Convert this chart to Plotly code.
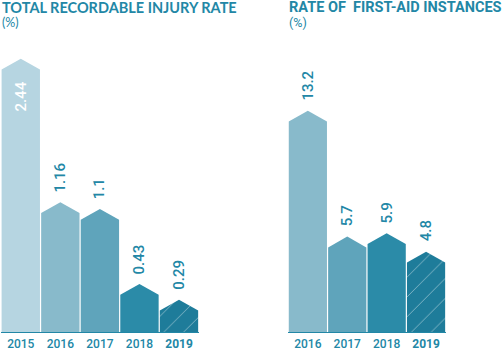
import plotly.graph_objects as go

# ---- data ----
tri_years = ["2015", "2016", "2017", "2018", "2019"]
tri_values = [2.44, 1.16, 1.1, 0.43, 0.29]
fa_years = ["2016", "2017", "2018", "2019"]
fa_values = [13.2, 5.7, 5.9, 4.8]

# ---- styles ----
TEAL = "#2287a6"
tri_colors = ["#b6d5e1", "#88bacb", "#5fa4bb", "#2b8ba8", "#1e7c9a"]
fa_colors = ["#88bacb", "#5fa4bb", "#2b8ba8", "#1e7c9a"]
H = 351
PLOT_H = 339  # px height of plot area
HALF_W = 0.485
ROOF_PX = 11

fig = go.Figure()


def add_bars(years, values, colors, xa, ya, yrange_top):
    roof = ROOF_PX / PLOT_H * yrange_top
    n = len(values)
    for i, (v, c) in enumerate(zip(values, colors)):
        xs = [i - HALF_W, i - HALF_W, i, i + HALF_W, i + HALF_W, i - HALF_W]
        ys = [0, v - roof, v, v - roof, 0, 0]
        kw = {}
        if i == n - 1:
            kw["fillpattern"] = dict(shape="/", fgcolor="rgba(255,255,255,0.85)",
                                     bgcolor=c, size=14, solidity=0.07)
        fig.add_trace(go.Scatter(x=xs, y=ys, fill="toself", fillcolor=c,
                                 mode="lines", line=dict(width=0),
                                 hoverinfo="skip", showlegend=False,
                                 xaxis=xa, yaxis=ya, **kw))
        inside = (i == 0 and years[0] == "2015")
        fig.add_annotation(x=i, y=v, xref=xa, yref=ya, text=str(v),
                           textangle=-90, showarrow=False,
                           yanchor="top" if inside else "bottom",
                           yshift=-21 if inside else 8,
                           font=dict(family="Roboto", size=15, weight=500,
                                     color="white" if inside else TEAL))


TRI_TOP = 2.44 * PLOT_H / 279
FA_TOP = 13.2 * PLOT_H / 226

add_bars(tri_years, tri_values, tri_colors, "x", "y", TRI_TOP)
add_bars(fa_years, fa_values, fa_colors, "x2", "y2", FA_TOP)

ydom = [(H - PLOT_H) / H, 1]


def xaxis_cfg(years, domain):
    return dict(domain=domain, range=[-0.5, len(years) - 0.5],
                tickvals=list(range(len(years))),
                ticktext=[("<b>%s</b>" % y) if y == years[-1] else y for y in years],
                showgrid=False, zeroline=False, showline=True,
                linecolor=TEAL, linewidth=1, ticks="",
                tickfont=dict(family="Roboto", size=12, weight=500, color=TEAL),
                fixedrange=True)


fig.update_layout(
    width=502, height=351,
    margin=dict(l=0, r=0, t=0, b=0),
    paper_bgcolor="white", plot_bgcolor="white",
    xaxis=xaxis_cfg(tri_years, [0.002, 0.396]),
    xaxis2=xaxis_cfg(fa_years, [0.574, 0.888]),
    yaxis=dict(domain=ydom, range=[0, TRI_TOP], visible=False),
    yaxis2=dict(domain=ydom, range=[0, FA_TOP], visible=False),
)

fig.add_annotation(x=0, y=1, xref="paper", yref="paper", xanchor="left", yanchor="top",
                   yshift=3, showarrow=False, text="<b>TOTAL RECORDABLE INJURY RATE</b>",
                   font=dict(family="Lato", size=14.5, color=TEAL))
fig.add_annotation(x=0, y=1, xref="paper", yref="paper", xanchor="left", yanchor="top",
                   yshift=-13, showarrow=False, text="(%)",
                   font=dict(family="Lato", size=12.5, color=TEAL))
fig.add_annotation(x=0.572, y=1, xref="paper", yref="paper", xanchor="left", yanchor="top",
                   yshift=3, showarrow=False, text="<b>RATE OF  FIRST-AID INSTANCES</b>",
                   font=dict(family="Roboto", size=14.5, color=TEAL))
fig.add_annotation(x=0.572, y=1, xref="paper", yref="paper", xanchor="left", yanchor="top",
                   yshift=-13, showarrow=False, text="(%)",
                   font=dict(family="Roboto", size=12.5, color=TEAL))

fig.write_html("out.html")
